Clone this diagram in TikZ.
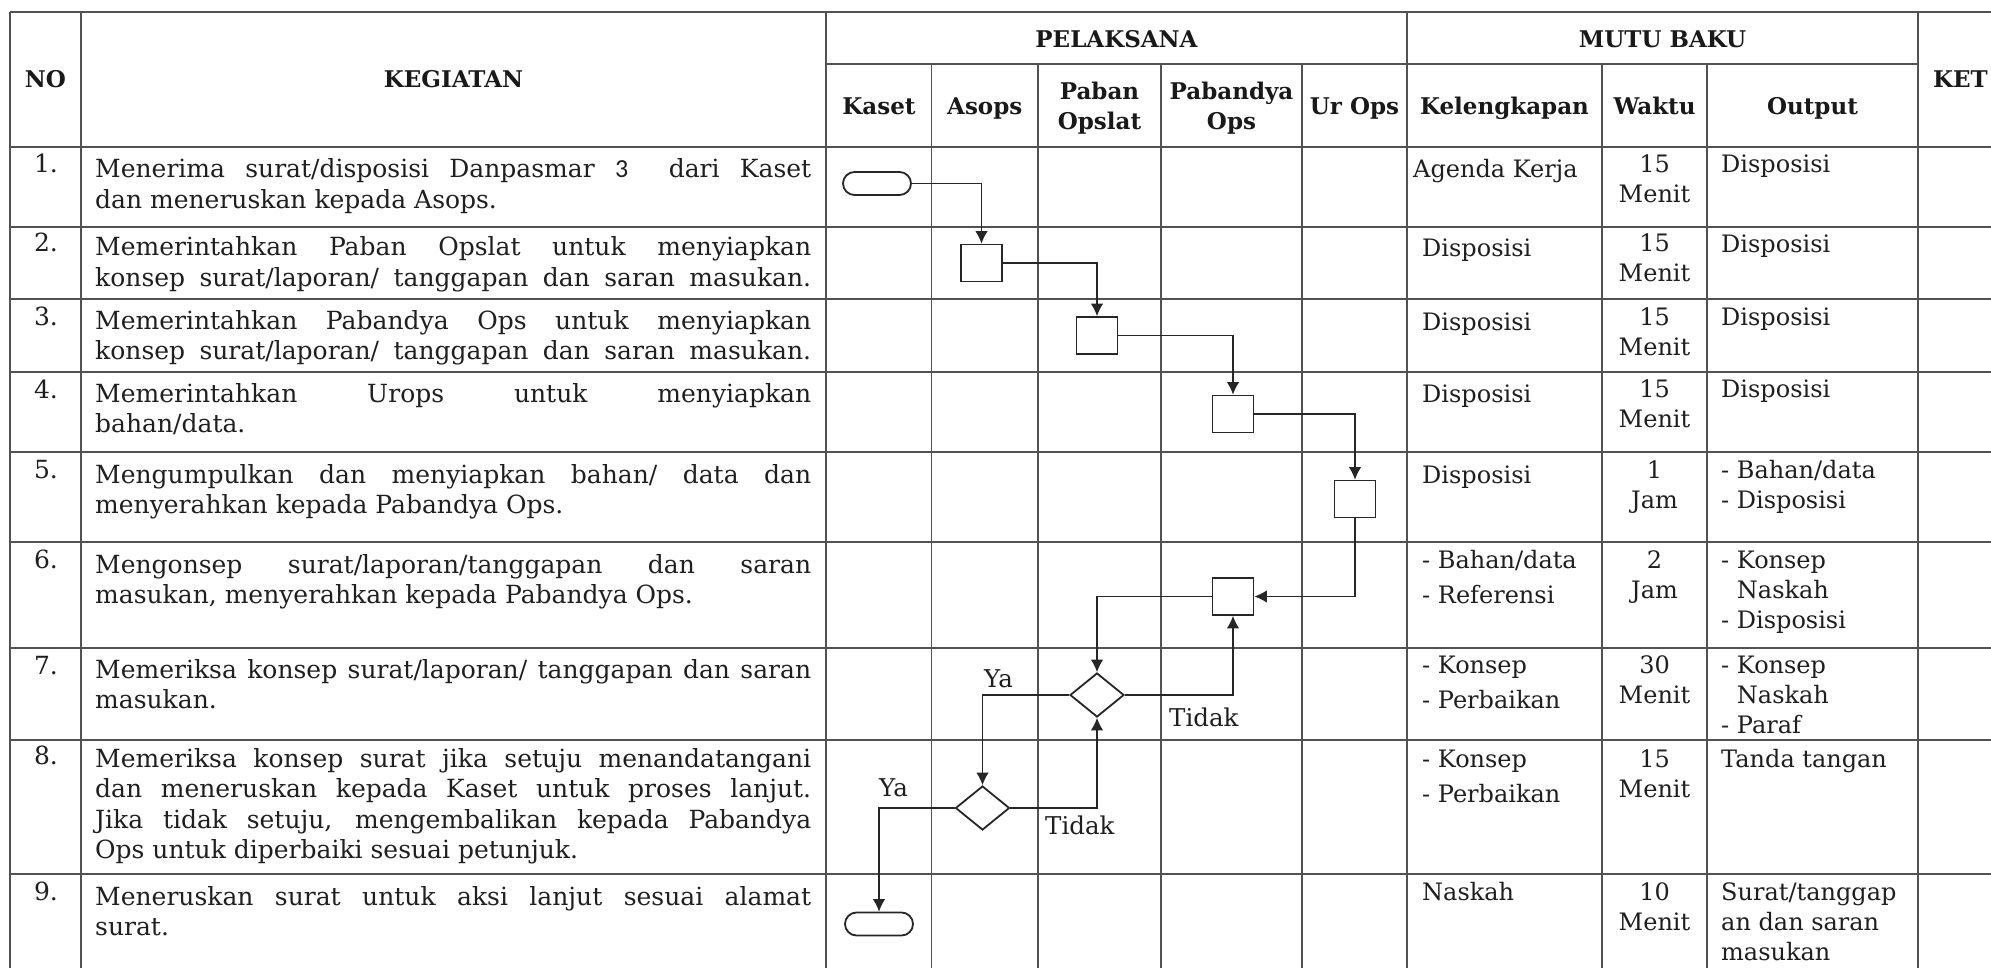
\documentclass[tikz,border=0pt]{standalone}
\usepackage{fontspec}
\setmainfont{DejaVu Serif}
\newfontfamily\carl{Carlito}
\usetikzlibrary{arrows.meta,shapes.geometric}
\newcommand{\jline}[1]{\makebox[716pt][s]{#1}}
\tikzset{
 gridline/.style={line width=1.6pt, draw=black!68},
 proc/.style={draw=black!85, line width=1.8pt, minimum width=41pt, minimum height=37pt, inner sep=0pt},
 term/.style={draw=black!85, line width=1.8pt, rounded corners=11.5pt, minimum width=68pt, minimum height=23pt, inner sep=0pt},
 dec/.style={draw=black!85, diamond, line width=1.8pt, minimum width=54pt, minimum height=44pt, inner sep=0pt},
 flow/.style={line width=1.2pt, draw=black!85, -{Latex[length=12.5pt,width=12.5pt]}},
 hdr/.style={font=\fontsize{23}{30}\selectfont\bfseries, inner sep=0pt, anchor=base, text=black!90},
 body/.style={font=\fontsize{25}{30.5}\selectfont, inner sep=0pt, anchor=base west, text=black!88},
 num/.style={font=\fontsize{25}{30}\selectfont, inner sep=0pt, anchor=base, text=black!88},
 cell/.style={font=\fontsize{24}{30}\selectfont, inner sep=0pt, anchor=base west, text=black!88},
 wcell/.style={font=\fontsize{24}{30}\selectfont, inner sep=0pt, anchor=base, text=black!88},
 lbl/.style={font=\fontsize{24.5}{29}\selectfont, inner sep=0pt, anchor=base west, text=black!88},
}
\begin{document}
\begin{tikzpicture}[x=1pt,y=-1pt]
\useasboundingbox (0,0) rectangle (1991,968);
\fill[white] (0,0) rectangle (1991,968);
% grid
\foreach \yy in {12,147,227,299,372,452,542,648,740,874}
  \draw[gridline] (10,\yy) -- (1991,\yy);
\draw[gridline] (826,64) -- (1918,64);
\foreach \xx in {10,81,826,1407,1918}
  \draw[gridline] (\xx,12) -- (\xx,968);
\foreach \xx in {931.5,1038,1161,1302,1602,1707}
  \draw[gridline] (\xx,64) -- (\xx,968);
% headers
\node[hdr] (hno) at (45.5,88) {NO};
\node[hdr] (hkeg) at (453.5,88) {KEGIATAN};
\node[hdr] (hpel) at (1116.5,48) {PELAKSANA};
\node[hdr] (hmutu) at (1662.5,48) {MUTU BAKU};
\node[hdr, anchor=base west] (hket) at (1933,88) {KET};
\node[hdr] (hkaset) at (879,115) {Kaset};
\node[hdr] (hasops) at (984.75,115) {Asops};
\node[hdr] (hpaban) at (1099.5,100) {\parbox[t]{120pt}{\centering Paban\\Opslat}};
\node[hdr] (hpaby) at (1231.5,100) {\parbox[t]{140pt}{\centering Pabandya\\Ops}};
\node[hdr] (hurops) at (1354.5,115) {Ur Ops};
\node[hdr] (hkel) at (1504.5,115) {Kelengkapan};
\node[hdr] (hwak) at (1654.5,115) {Waktu};
\node[hdr] (hout) at (1812.5,115) {Output};
% numbers
\node[num] (n1) at (46,173) {1.};
\node[num] (n2) at (46,252) {2.};
\node[num] (n3) at (46,325) {3.};
\node[num] (n4) at (46,398) {4.};
\node[num] (n5) at (46,478) {5.};
\node[num] (n6) at (46,568) {6.};
\node[num] (n7) at (46,674) {7.};
\node[num] (n8) at (46,764) {8.};
\node[num] (n9) at (46,900) {9.};
% kegiatan
\node[body] (k1) at (95,178) {\parbox[t]{716pt}{\jline{Menerima surat/disposisi Danpasmar {\carl\fontsize{26}{30}\selectfont 3}\ \ dari Kaset}\\dan meneruskan kepada Asops.}};
\node[body] (k2) at (95,256) {\parbox[t]{716pt}{\jline{Memerintahkan Paban Opslat untuk menyiapkan}\\\jline{konsep surat/laporan/ tanggapan dan saran masukan.}}};
\node[body] (k3) at (95,329) {\parbox[t]{716pt}{\jline{Memerintahkan Pabandya Ops untuk menyiapkan}\\\jline{konsep surat/laporan/ tanggapan dan saran masukan.}}};
\node[body] (k4) at (95,402) {\parbox[t]{716pt}{\jline{Memerintahkan Urops untuk menyiapkan}\\bahan/data.}};
\node[body] (k5) at (95,483) {\parbox[t]{716pt}{\jline{Mengumpulkan dan menyiapkan bahan/ data dan}\\menyerahkan kepada Pabandya Ops.}};
\node[body] (k6) at (95,573) {\parbox[t]{716pt}{\jline{Mengonsep surat/laporan/tanggapan dan saran}\\masukan, menyerahkan kepada Pabandya Ops.}};
\node[body] (k7) at (95,678) {\parbox[t]{716pt}{\jline{Memeriksa konsep surat/laporan/ tanggapan dan saran}\\masukan.}};
\node[body] (k8) at (95,767) {\parbox[t]{716pt}{\jline{Memeriksa konsep surat jika setuju menandatangani}\\\jline{dan meneruskan kepada Kaset untuk proses lanjut.}\\\jline{Jika tidak setuju, mengembalikan kepada Pabandya}\\Ops untuk diperbaiki sesuai petunjuk.}};
\node[body] (k9) at (95,905) {\parbox[t]{716pt}{\jline{Meneruskan surat untuk aksi lanjut sesuai alamat}\\surat.}};
% kelengkapan
\node[cell] (c1) at (1413,178) {Agenda Kerja};
\node[cell] (c2) at (1422,257) {Disposisi};
\node[cell] (c3) at (1422,330) {Disposisi};
\node[cell] (c4) at (1422,402) {Disposisi};
\node[cell] (c5) at (1422,483) {Disposisi};
\node[cell] (c6) at (1422,568) {\parbox[t]{180pt}{- Bahan/data\\[5pt]- Referensi}};
\node[cell] (c7) at (1422,673) {\parbox[t]{180pt}{- Konsep\\[5pt]- Perbaikan}};
\node[cell] (c8) at (1422,767) {\parbox[t]{180pt}{- Konsep\\[5pt]- Perbaikan}};
\node[cell] (c9) at (1422,900) {Naskah};
% waktu
\node[wcell] (w1) at (1654.5,173) {\parbox[t]{100pt}{\centering 15\\Menit}};
\node[wcell] (w2) at (1654.5,252) {\parbox[t]{100pt}{\centering 15\\Menit}};
\node[wcell] (w3) at (1654.5,325) {\parbox[t]{100pt}{\centering 15\\Menit}};
\node[wcell] (w4) at (1654.5,397) {\parbox[t]{100pt}{\centering 15\\Menit}};
\node[wcell] (w5) at (1654.5,478) {\parbox[t]{100pt}{\centering 1\\Jam}};
\node[wcell] (w6) at (1654.5,568) {\parbox[t]{100pt}{\centering 2\\Jam}};
\node[wcell] (w7) at (1654.5,673) {\parbox[t]{100pt}{\centering 30\\Menit}};
\node[wcell] (w8) at (1654.5,767) {\parbox[t]{100pt}{\centering 15\\Menit}};
\node[wcell] (w9) at (1654.5,900) {\parbox[t]{100pt}{\centering 10\\Menit}};
% output
\node[cell] (o1) at (1721,173) {Disposisi};
\node[cell] (o2) at (1721,253) {Disposisi};
\node[cell] (o3) at (1721,325) {Disposisi};
\node[cell] (o4) at (1721,397) {Disposisi};
\node[cell] (o5) at (1721,478) {\parbox[t]{190pt}{- Bahan/data\\- Disposisi}};
\node[cell] (o6) at (1721,568) {\parbox[t]{190pt}{- Konsep\\\phantom{- }Naskah\\- Disposisi}};
\node[cell] (o7) at (1721,673) {\parbox[t]{190pt}{- Konsep\\\phantom{- }Naskah\\- Paraf}};
\node[cell] (o8) at (1721,767) {Tanda tangan};
\node[cell] (o9) at (1721,900) {\parbox[t]{195pt}{Surat/tanggap\\an dan saran\\masukan}};
% flowchart shapes
\node[term] (s) at (877,183.5) {};
\node[proc] (b2) at (981.5,263) {};
\node[proc] (b3) at (1097,335.5) {};
\node[proc] (b4) at (1233,414) {};
\node[proc] (b5) at (1355,499) {};
\node[proc] (b6) at (1233,596.5) {};
\node[dec] (d1) at (1097,695) {};
\node[dec] (d2) at (982.5,808) {};
\node[term] (e) at (879,924) {};
% connectors
\draw[flow] (s.east) -| (b2.north);
\draw[flow] (b2.east) -| (b3.north);
\draw[flow] (b3.east) -| (b4.north);
\draw[flow] (b4.east) -| (b5.north);
\draw[flow] (b5.south) |- (b6.east);
\draw[flow] (b6.west) -| (d1.north);
\draw[flow] (d1.east) -| (b6.south);
\draw[flow] (d1.west) -| (d2.north);
\draw[flow] (d2.east) -| (d1.south);
\draw[flow] (d2.west) -| (e.north);
% labels
\node[lbl] (ya1) at (984,687) {Ya};
\node[lbl] (td1) at (1169,726) {Tidak};
\node[lbl] (ya2) at (879,796) {Ya};
\node[lbl] (td2) at (1045,834) {Tidak};
\end{tikzpicture}
\end{document}
